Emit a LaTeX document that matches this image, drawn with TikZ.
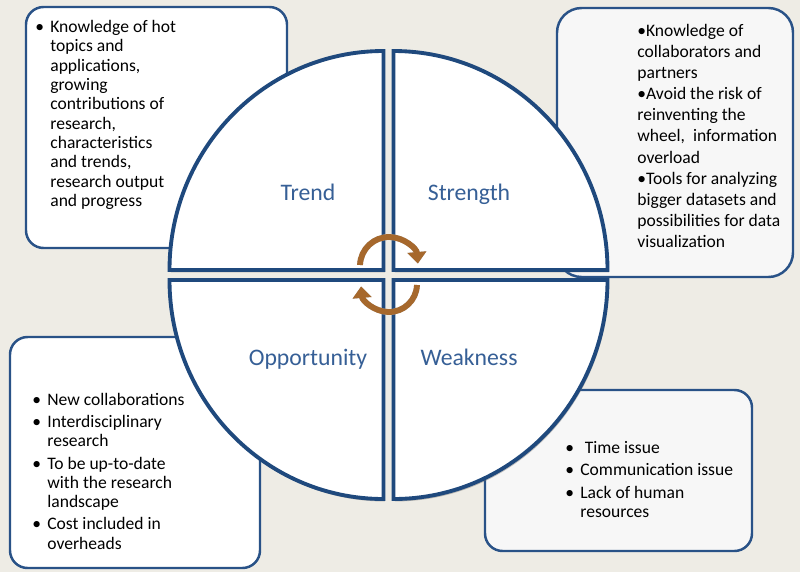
\documentclass[tikz,border=0pt]{standalone}
\usepackage{fontspec}
\setmainfont{Carlito}
\usetikzlibrary{positioning,fit,calc,shadows,arrows.meta}

\definecolor{bgbeige}{RGB}{238,236,229}
\definecolor{swotblue}{RGB}{31,73,125}
\definecolor{boxblue}{RGB}{41,82,135}
\definecolor{labelblue}{RGB}{54,95,150}
\definecolor{arrowbrown}{RGB}{166,104,44}

\newcommand{\itm}{\llap{\textbullet\hspace{3.5pt}}}

\begin{document}
\begin{tikzpicture}[x=0.02cm, y=-0.02cm,
  infobox/.style={draw=boxblue, line width=1.4pt, rounded corners=10pt, fill=white, inner sep=0pt},
  infotext/.style={anchor=north west, align=left, inner sep=0pt, font=\fontsize{10}{11}\selectfont},
  quadlabel/.style={anchor=base, text=labelblue, font=\fontsize{13.5}{16}\selectfont},
  quarter/.style={fill=white, draw=swotblue, line width=2.2pt,
    drop shadow={shadow xshift=0.8pt, shadow yshift=-1.4pt, opacity=0.45, fill=black!55}},
  cyclearrow/.style={line width=3.3pt, -{Triangle[width=10.5pt,length=6.5pt]}}
]
% Background
\useasboundingbox (0,0) rectangle (800,572);
\fill[bgbeige] (0,0) rectangle (800,572);

% Side boxes
\node[infobox, fit={(26,7) (287,248)}] (trendbox) {};
\node[infobox, rounded corners=14pt, fill=black!3, fit={(557,8) (793,277)}] (strengthbox) {};
\node[infobox, fit={(10,337) (260,568)}] (opportunitybox) {};
\node[infobox, fill=black!3, fit={(485,390) (752,551)}] (weaknessbox) {};

% Quarters of the circle
\foreach \cx/\cy/\sa in {383.5/270/180, 393.5/270/270, 393.5/280/0, 383.5/280/90} {
  \draw[quarter] (\cx,\cy) -- ++(\sa:214 and 219)
    arc[start angle=\sa, delta angle=90, x radius=214, y radius=219] -- cycle;
}

% Labels
\node[quadlabel] (trend) at (308,200) {Trend};
\node[quadlabel] (strength) at (469,200) {Strength};
\node[quadlabel] (opportunity) at (308,365) {Opportunity};
\node[quadlabel] (weakness) at (469,365) {Weakness};

% Cycle arrows
\coordinate (tophub) at (389,266);
\coordinate (bothub) at (389,284);
\foreach \sh/\col in {{(1.5,2.5)}/black!30, {(0,0)}/arrowbrown} {
  \draw[cyclearrow, draw=\col, shift=\sh] (tophub) ++(182:29)
    arc[start angle=182, end angle=355, radius=29];
  \draw[cyclearrow, draw=\col, shift=\sh] (bothub) ++(2:28)
    arc[start angle=2, end angle=175, radius=28];
}

% Box texts
\node[infotext] (trendtext) at (50,20) {\itm Knowledge of hot\\topics and\\applications,\\growing\\contributions of\\research,\\characteristics\\and trends,\\research output\\and progress};
\node[infotext, font=\fontsize{10}{12}\selectfont] (strengthtext) at (637,24) {\textbullet Knowledge of\\collaborators and\\partners\\\textbullet Avoid the risk of\\reinventing the\\wheel,\ \ information\\overload\\\textbullet Tools for analyzing\\bigger datasets and\\possibilities for data\\visualization};
\node[infotext] (opportunitytext) at (47,392.5) {\itm New collaborations\\[1.7pt]\itm Interdisciplinary\\research\\[1.7pt]\itm To be up-to-date\\with the research\\landscape\\[1.7pt]\itm Cost included in\\overheads};
\node[infotext] (weaknesstext) at (580,441) {\itm\hspace{2.5pt}Time issue\\[1.7pt]\itm Communication issue\\[1.7pt]\itm Lack of human\\resources};
\end{tikzpicture}
\end{document}
